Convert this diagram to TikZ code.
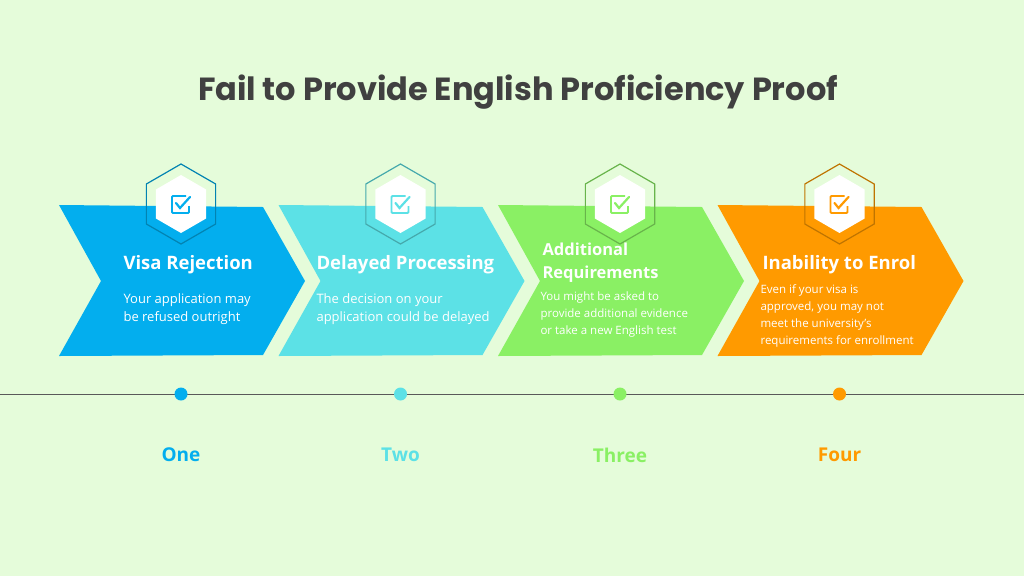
\documentclass[tikz,border=0pt]{standalone}
\usepackage{fontspec}
\setmainfont{Open Sans}
\newfontfamily\titlefont{Poppins}
\definecolor{bgcol}{HTML}{E5FCDA}
\definecolor{stepa}{HTML}{03AEEE}
\definecolor{stepb}{HTML}{5CE1E6}
\definecolor{stepc}{HTML}{8AF064}
\definecolor{stepd}{HTML}{FF9A00}
\definecolor{titlecol}{HTML}{404040}
\tikzset{
  headtext/.style={anchor=west,text=white,font=\fontsize{18.5}{22}\selectfont\bfseries,align=left},
  bodytext/.style={anchor=west,text=white,font=\fontsize{13}{18}\selectfont,align=left},
  numtext/.style={font=\fontsize{19}{22}\selectfont\bfseries}
}
\begin{document}
\begin{tikzpicture}[x=1pt,y=-1pt]
  \fill[bgcol] (0,0) rectangle (1024,576);
  \useasboundingbox (0,0) rectangle (1024,576);
  \node[text=titlecol,font=\titlefont\fontsize{32}{36}\selectfont\bfseries] (title) at (518,92) {Fail to Provide English Proficiency Proof};
  \draw[gray!70!black,line width=0.8] (0,394) -- (1024,394);
  % chevrons, badges, dots and numbers
  \foreach \i/\c/\lbl in {0/stepa/One,1/stepb/Two,2/stepc/Three,3/stepd/Four}{
    \pgfmathsetmacro{\dx}{219.5*\i}
    \begin{scope}[xshift=\dx]
      \fill[\c] (59,205) -- (263,207) -- (305,281) -- (263,355) -- (59,356) -- (101,281) -- cycle;
      \draw[\c!75!black,line width=1.2] (181,164) -- ++(30:40) -- ++(90:40) -- ++(150:40) -- ++(210:40) -- ++(270:40) -- cycle;
      \fill[white] (181,175) -- ++(30:29) -- ++(90:29) -- ++(150:29) -- ++(210:29) -- ++(270:29) -- cycle;
      \draw[\c,line width=1.8,rounded corners=1] (186,196) -- (172,196) -- (172,213) -- (189,213) -- (189,206);
      \draw[\c,line width=2.2,line cap=round] (176,203) -- (180,208) -- (190,197);
      \fill[\c] (181,394) circle (6.5);
      \node[numtext,text=\c] (num\i) at (181,455) {\lbl};
    \end{scope}
  }
  % texts
  \node[headtext] (heada) at (120,265) {Visa Rejection};
  \node[bodytext] (bodya) at (120,309) {Your application may\\be refused outright};
  \node[headtext] (headb) at (313,265) {Delayed Processing};
  \node[bodytext] (bodyb) at (313,309) {The decision on your\\application could be delayed};
  \node[headtext,font=\fontsize{16.5}{23}\selectfont\bfseries] (headc) at (539,263) {Additional\\Requirements};
  \node[bodytext,font=\fontsize{11.5}{17}\selectfont] (bodyc) at (537,315) {You might be asked to\\provide additional evidence\\or take a new English test};
  \node[headtext] (headd) at (759,265) {Inability to Enrol};
  \node[bodytext,font=\fontsize{11.5}{17}\selectfont] (bodyd) at (757,316) {Even if your visa is\\approved, you may not\\meet the university's\\requirements for enrollment};
\end{tikzpicture}
\end{document}
